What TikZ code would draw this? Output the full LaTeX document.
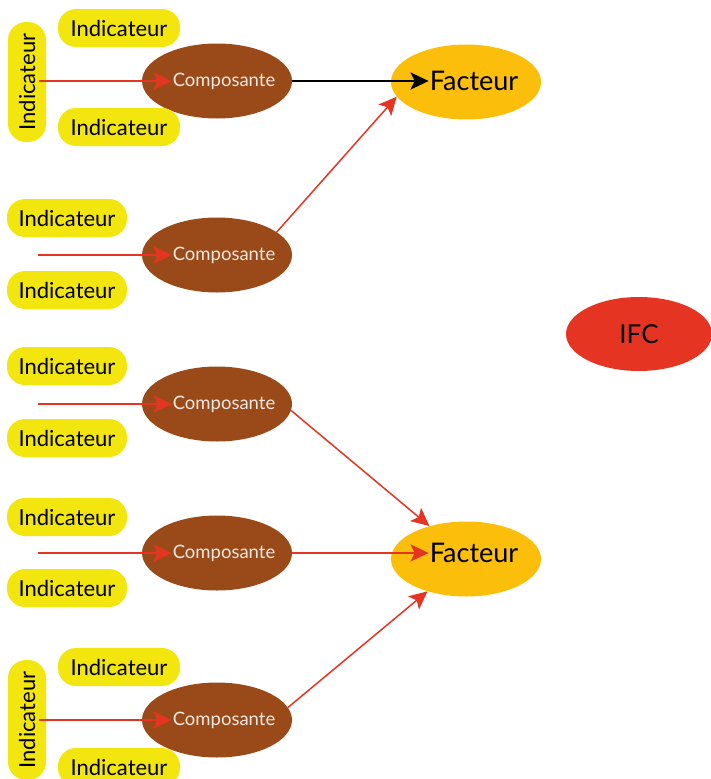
\documentclass[tikz,border=0pt]{standalone}
\usepackage{fontspec}
\setmainfont{Lato}
\usetikzlibrary{shapes.geometric,arrows.meta}
\definecolor{pill}{HTML}{F3E60E}
\definecolor{brownc}{HTML}{9A4A18}
\definecolor{fact}{HTML}{FBBF0B}
\definecolor{ifc}{HTML}{E53522}
\definecolor{arr}{HTML}{E53522}
\definecolor{comptext}{HTML}{F2E8E2}
\tikzset{
  indbox/.style={fill=pill, rounded corners=18pt, minimum width=120pt, minimum height=38pt, inner sep=0pt, font=\fontsize{22}{22}\selectfont},
  indwide/.style={indbox, minimum width=122pt},
  indvert/.style={indbox, rotate=90, minimum width=120pt},
  compell/.style={ellipse, fill=brownc, minimum width=150pt, minimum height=75pt, inner sep=0pt},
  comptxt/.style={text=comptext, font=\fontsize{18.5}{18.5}\selectfont, inner sep=1pt},
  factell/.style={ellipse, fill=fact, minimum width=150pt, minimum height=75pt, inner sep=0pt},
  facttxt/.style={font=\fontsize{27}{27}\selectfont, inner sep=1pt},
  ifcell/.style={ellipse, fill=ifc, minimum width=146pt, minimum height=74pt, inner sep=0pt, font=\fontsize{26}{26}\selectfont},
  tip/.style={-{Stealth[length=18pt,width=17pt,inset=4pt]}},
  redarrow/.style={draw=arr, line width=2pt, tip},
  diagarrow/.style={draw=arr, line width=1.5pt, tip},
  blackarrow/.style={draw=black, line width=2.2pt, tip},
}
\begin{document}
\begin{tikzpicture}[x=1pt,y=-1pt]
\useasboundingbox (0,0) rectangle (711,779);
% Composantes
\node[compell] (c1) at (217,81) {};
\node[comptxt] (ct1) at (224,81) {Composante};
\node[compell] (c2) at (217,255) {};
\node[comptxt] (ct2) at (224,255) {Composante};
\node[compell] (c3) at (217,404) {};
\node[comptxt] (ct3) at (224,404) {Composante};
\node[compell] (c4) at (217,553) {};
\node[comptxt] (ct4) at (224,553) {Composante};
\node[compell] (c5) at (217,720) {};
\node[comptxt] (ct5) at (224,720) {Composante};
% Facteurs
\node[factell] (f1) at (466,82) {};
\node[facttxt] (ft1) at (474,81) {Facteur};
\node[factell] (f2) at (466,559) {};
\node[facttxt] (ft2) at (474,553) {Facteur};
% IFC
\node[ifcell] (ifc) at (639,334) {IFC};
% Indicateurs
\node[indvert] (v1) at (27,82) {Indicateur};
\node[indwide] (i1a) at (119,28) {Indicateur};
\node[indwide] (i1b) at (119,127) {Indicateur};
\node[indbox] (i2a) at (67,218) {Indicateur};
\node[indbox] (i2b) at (67,290) {Indicateur};
\node[indbox] (i3a) at (67,366) {Indicateur};
\node[indbox] (i3b) at (67,438) {Indicateur};
\node[indbox] (i4a) at (67,517) {Indicateur};
\node[indbox] (i4b) at (67,588) {Indicateur};
\node[indvert] (v5) at (27,720) {Indicateur};
\node[indwide] (i5a) at (119,667) {Indicateur};
\node[indwide] (i5b) at (119,767) {Indicateur};
% free arrow starts
\coordinate (s1) at (39,81);
\coordinate (s2) at (38,255);
\coordinate (s3) at (38,404);
\coordinate (s4) at (38,553);
\coordinate (s5) at (39,720);
% arrows into composantes
\draw[redarrow] (s1) -- (ct1.west);
\draw[redarrow] (s2) -- (ct2.west);
\draw[redarrow] (s3) -- (ct3.west);
\draw[redarrow] (s4) -- (ct4.west);
\draw[redarrow] (s5) -- (ct5.west);
% composantes to facteurs
\draw[blackarrow] (c1.east) -- (ft1.west);
\draw[diagarrow] (c2.21) -- (f1.192);
\draw[diagarrow] (c3.355) -- (f2.138);
\draw[redarrow] (c4.east) -- (ft2.west);
\draw[diagarrow] (c5.10) -- (f2.220);
\end{tikzpicture}
\end{document}
